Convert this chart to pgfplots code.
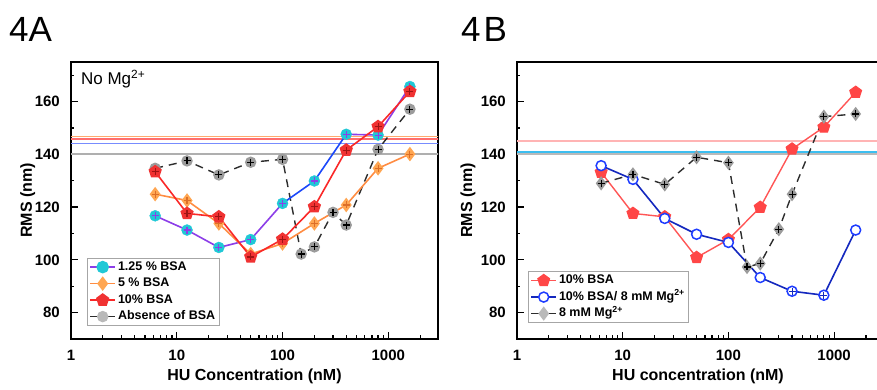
\documentclass[border=0pt]{standalone}
\usepackage{fontspec}
\setmainfont{Liberation Sans}
\newfontfamily\boldsans{Liberation Sans Bold}
\usepackage{pgfplots}
\pgfplotsset{compat=1.18}
\usetikzlibrary{plotmarks}

\definecolor{cyanM}{RGB}{32,200,214}
\definecolor{purpleL}{RGB}{140,62,232}
\definecolor{blueL}{RGB}{28,72,250}
\definecolor{orangeL}{RGB}{255,140,66}
\definecolor{orangeM}{RGB}{255,166,82}
\definecolor{orangeD}{RGB}{220,110,40}
\definecolor{redL}{RGB}{250,40,40}
\definecolor{redM}{RGB}{240,50,50}
\definecolor{redD}{RGB}{160,20,20}
\definecolor{greyM}{RGB}{155,155,155}
\definecolor{dashC}{RGB}{45,45,45}
\definecolor{hOrange}{RGB}{255,170,110}
\definecolor{hRed}{RGB}{255,110,110}
\definecolor{hBlue}{RGB}{120,140,255}
\definecolor{hGrey}{RGB}{175,175,175}
\definecolor{redL2}{RGB}{255,85,85}
\definecolor{redM2}{RGB}{255,70,70}
\definecolor{blueD}{RGB}{20,40,190}
\definecolor{blueM}{RGB}{30,60,255}
\definecolor{hPink}{RGB}{255,180,180}
\definecolor{hCyan}{RGB}{60,190,240}
\definecolor{hGreyB}{RGB}{185,185,185}

\newcommand{\tk}[1]{{\boldsans\fontsize{15}{15}\selectfont #1}}

\pgfplotsset{
  legend image code/.code={\draw[mark repeat=2,mark phase=2] plot coordinates {(0pt,0pt) (12.5pt,0pt) (25pt,0pt)};},
}

\begin{document}
\begin{tikzpicture}
\useasboundingbox (0,0) rectangle (877pt,390pt);

\node[anchor=base west, inner sep=0pt, font=\fontsize{35}{35}\selectfont] at (9pt,348.3pt) {4A};
\node[anchor=base west, inner sep=0pt, font=\fontsize{35}{35}\selectfont] at (461pt,348.3pt) {4\kern3pt B};

% ---------------- Panel A ----------------
\begin{axis}[
  scale only axis, at={(71pt,51pt)}, anchor=south west,
  width=367pt, height=277pt,
  xmode=log, xmin=1, xmax=2950, ymin=70, ymax=175,
  axis line style={line width=1.4pt},
  tick pos=left, tick align=inside,
  major tick length=7pt, minor tick length=3.5pt,
  every tick/.append style={black, line width=1.2pt},
  ytick={80,100,120,140,160},
  yticklabels={\tk{80},\tk{100},\tk{120},\tk{140},\tk{160}},
  minor ytick={70,90,110,130,150,170},
  xtick={1,10,100,1000}, xticklabels={\tk{1},\tk{10},\tk{100},\tk{1000}},
  minor xtick={2,3,4,5,6,7,8,9,20,30,40,50,60,70,80,90,200,300,400,500,600,700,800,900,2000,3000},
  xticklabel style={anchor=base, inner sep=0pt, yshift=-22pt},
  yticklabel style={anchor=east, inner sep=0pt, xshift=-11pt},
  label style={font=\boldsans\fontsize{16}{16}\selectfont},
  xlabel={HU Concentration (nM)}, ylabel={RMS (nm)},
  xlabel style={at={(axis description cs:0.5,-0.1516)}, anchor=base},
  ylabel style={at={(axis description cs:-0.1063,0.5)}, anchor=base},
  legend cell align=left,
  legend style={at={(axis description cs:0.0436,0.0469)}, anchor=south west, draw=gray!70, line width=0.8pt, fill=white,
      font=\fontsize{12.5}{12.5}\selectfont\bfseries,
      row sep=0.5pt, inner xsep=2pt, inner ysep=1pt,
      nodes={text height=9pt, text depth=3pt, inner sep=2pt}},
]
\addplot[forget plot, hOrange, line width=1.6pt] coordinates {(0.5,146.8) (5000,146.8)};
\addplot[forget plot, hRed, line width=1.6pt] coordinates {(0.5,145.8) (5000,145.8)};
\addplot[forget plot, hBlue, line width=1.6pt] coordinates {(0.5,144.1) (5000,144.1)};
\addplot[forget plot, hGrey, line width=1.6pt] coordinates {(0.5,140.1) (5000,140.1)};

% Absence of BSA
\addplot[forget plot, dashC, line width=1.4pt, dash pattern=on 8pt off 6pt, mark=*, mark size=5pt,
  mark options={solid, fill=greyM, draw=greyM}] coordinates {
 (6.25,134.7) (12.5,137.5) (25,132.2) (50,137) (100,138.1) (150,102.2) (200,104.9) (300,118) (400,113.2) (800,141.9) (1600,157.1)};
\addplot[forget plot, only marks, mark=+, mark size=3.5pt, mark options={line width=1.1pt, draw=black}] coordinates {
 (6.25,134.7) (12.5,137.5) (25,132.2) (50,137) (100,138.1) (150,102.2) (200,104.9) (300,118) (400,113.2) (800,141.9) (1600,157.1)};

% 1.25 % BSA
\addplot[forget plot, purpleL, line width=1.6pt] coordinates {
 (6.25,116.7) (12.5,111.3) (25,104.7) (50,107.7) (100,121.4)};
\addplot[forget plot, blueL, line width=1.6pt] coordinates {
 (100,121.4) (200,129.9) (400,147.6)};
\addplot[forget plot, purpleL, line width=1.6pt] coordinates {
 (400,147.6) (800,147.3) (1600,165.7)};
\addplot[forget plot, only marks, mark=*, mark size=5.5pt, mark options={fill=cyanM, draw=cyanM}] coordinates {
 (6.25,116.7) (12.5,111.3) (25,104.7) (50,107.7) (100,121.4) (200,129.9) (400,147.6) (800,147.3) (1600,165.7)};
\addplot[forget plot, only marks, mark=+, mark size=3.5pt, mark options={line width=1.1pt, draw=purpleL}] coordinates {
 (6.25,116.7) (12.5,111.3) (25,104.7) (50,107.7) (100,121.4) (200,129.9) (400,147.6) (800,147.3) (1600,165.7)};

% 5 % BSA
\addplot[forget plot, orangeL, line width=1.6pt, mark=diamond*, mark size=6pt,
  mark options={fill=orangeM, draw=orangeM}] coordinates {
 (6.25,124.9) (12.5,122.5) (25,113.8) (50,102.2) (100,106.2) (200,113.8) (400,120.8) (800,134.7) (1600,140.1)};
\addplot[forget plot, only marks, mark=+, mark size=3.5pt, mark options={line width=1.1pt, draw=orangeD}] coordinates {
 (6.25,124.9) (12.5,122.5) (25,113.8) (50,102.2) (100,106.2) (200,113.8) (400,120.8) (800,134.7) (1600,140.1)};

% 10 % BSA
\addplot[forget plot, redL, line width=1.6pt, mark=pentagon*, mark size=6pt,
  mark options={fill=redM, draw=redM}] coordinates {
 (6.25,133.4) (12.5,117.6) (25,116.3) (50,101.1) (100,107.8) (200,120.1) (400,141.6) (800,150.5) (1600,163.8)};
\addplot[forget plot, only marks, mark=+, mark size=3.5pt, mark options={line width=1.1pt, draw=redD}] coordinates {
 (6.25,133.4) (12.5,117.6) (25,116.3) (50,101.1) (100,107.8) (200,120.1) (400,141.6) (800,150.5) (1600,163.8)};

\addlegendimage{purpleL, line width=1.6pt, mark=*, mark size=5.5pt, mark options={fill=cyanM, draw=cyanM}}
\addlegendentry{1.25 \% BSA}
\addlegendimage{orangeL, line width=1.6pt, mark=diamond*, mark size=6pt, mark options={fill=orangeM, draw=orangeM}}
\addlegendentry{5 \% BSA}
\addlegendimage{redL, line width=1.6pt, mark=pentagon*, mark size=6pt, mark options={fill=redM, draw=redM}}
\addlegendentry{10\% BSA}
\addlegendimage{dashC, line width=1.4pt, mark=*, mark size=5pt, mark options={fill=greyM!70, draw=greyM!70}}
\addlegendentry{Absence of BSA}

\node[anchor=base west, inner sep=0pt, font=\fontsize{17}{17}\selectfont] at (axis description cs:0.027,0.917) {No Mg\textsuperscript{2+}};
\end{axis}

% ---------------- Panel B ----------------
\begin{axis}[
  scale only axis, at={(517pt,51pt)}, anchor=south west,
  width=362pt, height=277pt,
  xmode=log, xmin=1, xmax=2660, ymin=70, ymax=175,
  axis line style={line width=1.4pt},
  tick pos=left, tick align=inside,
  major tick length=7pt, minor tick length=3.5pt,
  every tick/.append style={black, line width=1.2pt},
  ytick={80,100,120,140,160},
  yticklabels={\tk{80},\tk{100},\tk{120},\tk{140},\tk{160}},
  minor ytick={70,90,110,130,150,170},
  xtick={1,10,100,1000}, xticklabels={\tk{1},\tk{10},\tk{100},\tk{1000}},
  minor xtick={2,3,4,5,6,7,8,9,20,30,40,50,60,70,80,90,200,300,400,500,600,700,800,900,2000},
  xticklabel style={anchor=base, inner sep=0pt, yshift=-22pt},
  yticklabel style={anchor=east, inner sep=0pt, xshift=-11pt},
  label style={font=\boldsans\fontsize{16}{16}\selectfont},
  xlabel={HU concentration (nM)}, ylabel={RMS (nm)},
  xlabel style={at={(axis description cs:0.5,-0.1516)}, anchor=base},
  ylabel style={at={(axis description cs:-0.1243,0.5)}, anchor=base},
  legend cell align=left,
  legend style={at={(axis description cs:0.0304,0.0578)}, anchor=south west, draw=gray!70, line width=0.8pt, fill=white,
      font=\fontsize{12.5}{12.5}\selectfont\bfseries,
      row sep=0.5pt, inner xsep=2pt, inner ysep=1pt,
      nodes={text height=9pt, text depth=3pt, inner sep=2pt}},
]
\addplot[forget plot, hPink, line width=1.6pt] coordinates {(0.5,145.1) (5000,145.1)};
\addplot[forget plot, hGreyB, line width=2.6pt] coordinates {(0.5,140.1) (5000,140.1)};
\addplot[forget plot, hCyan, line width=1.6pt] coordinates {(0.5,140.8) (5000,140.8)};

% 10% BSA
\addplot[forget plot, redL2, line width=1.4pt, mark=pentagon*, mark size=6pt,
  mark options={fill=redM2, draw=redM2}] coordinates {
 (6.25,133.2) (12.5,117.6) (25,116.3) (50,100.9) (100,107.7) (200,119.9) (400,142) (800,150.3) (1600,163.5)};

% 10% BSA / 8 mM Mg
\addplot[forget plot, blueD, line width=1.6pt, mark=*, mark size=5pt,
  mark options={fill=white, draw=blueM, line width=1.5pt}] coordinates {
 (6.25,135.7) (12.5,130.5) (25,115.7) (50,109.7) (100,106.6) (200,93.3) (400,88.1) (800,86.6) (1600,111.3)};
\addplot[forget plot, only marks, mark=+, mark size=3.5pt, mark options={line width=1.1pt, draw=blueD}] coordinates {(400,88.1) (800,86.6)};

% 8 mM Mg
\addplot[forget plot, dashC, line width=1.4pt, dash pattern=on 8pt off 6pt, mark=diamond*, mark size=6pt,
  mark options={solid, fill=greyM, draw=greyM}] coordinates {
 (6.25,129) (12.5,132.4) (25,128.6) (50,138.9) (100,136.8) (150,97.3) (200,98.6) (300,111.6) (400,124.9) (800,154.3) (1600,155.3)};
\addplot[forget plot, only marks, mark=+, mark size=3.5pt, mark options={line width=1.1pt, draw=black}] coordinates {
 (6.25,129) (12.5,132.4) (25,128.6) (50,138.9) (100,136.8) (150,97.3) (200,98.6) (300,111.6) (400,124.9) (800,154.3) (1600,155.3)};

\addlegendimage{redL2, line width=1.4pt, mark=pentagon*, mark size=6pt, mark options={fill=redM2, draw=redM2}}
\addlegendentry{10\% BSA}
\addlegendimage{blueD, line width=1.6pt, mark=*, mark size=5pt, mark options={fill=white, draw=blueM, line width=1.5pt}}
\addlegendentry{10\% BSA/ 8 mM Mg\textsuperscript{2+}}
\addlegendimage{dashC, line width=1.4pt, mark=diamond*, mark size=6pt, mark options={fill=greyM!70, draw=greyM!70}}
\addlegendentry{8 mM Mg\textsuperscript{2+}}
\end{axis}
\end{tikzpicture}
\end{document}
